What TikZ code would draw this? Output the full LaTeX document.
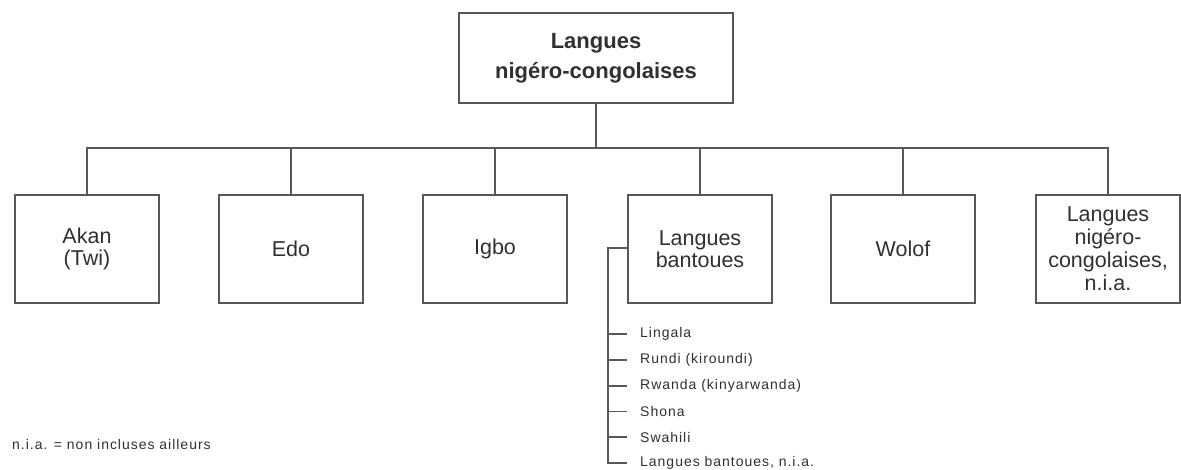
\documentclass[tikz,border=0pt]{standalone}
\usepackage{fontspec}
\setmainfont{Liberation Sans}
\definecolor{edge}{RGB}{88,88,88}
\definecolor{ink}{RGB}{48,48,48}
\begin{document}
\begin{tikzpicture}[x=1pt,y=-1pt,
  box/.style={draw=edge, line width=2pt, minimum width=144pt, minimum height=108pt,
    inner sep=0pt, align=center, text=ink, font=\fontsize{21.5}{22.5}\selectfont},
  rootbox/.style={box, minimum width=274pt, minimum height=90pt,
    font=\fontsize{22}{30}\selectfont\bfseries},
  link/.style={draw=edge, line width=1.8pt},
  subitem/.style={anchor=west, inner sep=0pt, text=ink,
    font=\fontsize{14}{16}\selectfont\addfontfeatures{LetterSpace=7}}
]
\useasboundingbox (0,0) rectangle (1181,469);

% root and the six branches
\node[rootbox] (root) at (596,58) {Langues\\nigéro-congolaises};
\node[box] (akan)   at (87,249)  {Akan\\(Twi)};
\node[box] (edo)    at (291,249) {Edo};
\node[box] (igbo)   at (495,249) {Igbo};
\node[box] (bantu)  at (700,249) {Langues\\bantoues};
\node[box] (wolof)  at (903,249) {Wolof};
\node[box, font=\fontsize{21.5}{23}\selectfont] (nia) at (1108,249) {Langues\\nigéro-\\congolaises,\\n.i.a.};

% horizontal bus
\coordinate (bus) at (596,148);
\draw[link] (root.south) -- (root.south |- bus);
\draw[link] (akan.north) -- (akan.north |- bus) -- (nia.north |- bus) -- (nia.north);
\foreach \n in {edo,igbo,bantu,wolof}
  \draw[link] (\n.north) -- (\n.north |- bus);

% Bantu languages list
\coordinate (spine) at (608,248);
\foreach \t [count=\i] in {Lingala,Rundi (kiroundi),Rwanda (kinyarwanda),Shona,Swahili,{Langues bantoues, n.i.a.}}
  \node[subitem] (s\i) at (640,{334+25.8*(\i-1)}) {\t};
\draw[link] (bantu.west |- spine) -- (spine) -- (spine |- s6.west) -- ([xshift=-13pt]s6.west);
\foreach \i in {1,...,5}
  \draw[link] (spine |- s\i.west) -- ([xshift=-13pt]s\i.west);

% footnote
\node[subitem] (note) at (12,444) {n.i.a. = non incluses ailleurs};
\end{tikzpicture}
\end{document}
